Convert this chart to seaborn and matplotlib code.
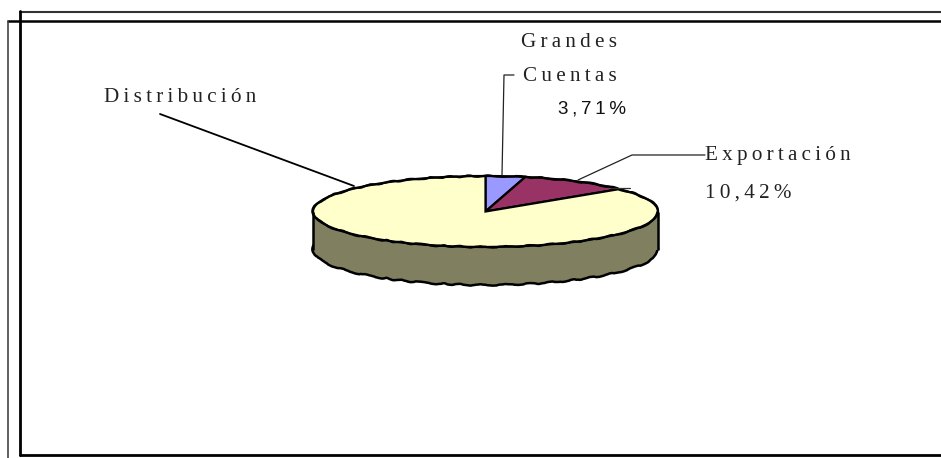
import matplotlib
matplotlib.use("Agg")
import matplotlib.pyplot as plt
import seaborn as sns
from matplotlib.patches import Rectangle

categories = ["Grandes Cuentas", "Exportación", "Distribución"]
values = [3.71, 10.42, 85.87]
value_labels = ["3,71%", "10,42%"]
slice_colors = ["#9999FF", "#993366", "#FFFFCC"]
wall_color = "#808060"

W, H = 941, 458
sns.set_theme(style="white", rc={"axes.grid": False})
palette = sns.color_palette(slice_colors)
SERIF = ["Liberation Serif", "DejaVu Serif"]
SANS = ["Liberation Sans", "DejaVu Sans"]


def spaced(s, sep="\u2009"):
    return sep.join(s)


fig = plt.figure(figsize=(W / 100, H / 100), dpi=100, facecolor="white")

# Overlay in pixel coordinates: frame, leader lines and labels
over = fig.add_axes([0, 0, 1, 1], zorder=3)
over.set_xlim(0, W)
over.set_ylim(H, 0)
over.axis("off")
over.patch.set_alpha(0)

over.plot([20, W], [11.5, 11.5], color="#333333", lw=1.5)
over.plot([8, W], [21, 21], color="black", lw=1.8)
over.plot([8.5, 8.5], [21, H], color="#444444", lw=1.2)
over.plot([20.5, 20.5], [11, 455], color="black", lw=2.0)
over.plot([20, W], [455, 455], color="black", lw=2.0)

# Pie: ellipse spans x 313-658, top y 176-247, wall drops to y 285
left, right, top, bottom = 313, 658, 176, 285
ax = fig.add_axes([left / W, 1 - bottom / H, (right - left) / W, (bottom - top) / H], zorder=2)
ry = 35.5
depth = (bottom - top - 2 * ry) / ry

arc, _ = ax.pie([100], colors=[wall_color], center=(0, -depth), radius=1,
                wedgeprops=dict(edgecolor="black", linewidth=1.8, clip_on=False))
ax.add_patch(Rectangle((-1, -depth), 2, depth, facecolor=wall_color, edgecolor="none", clip_on=False))
ax.vlines([-1, 1], -depth, 0, color="black", lw=1.8, clip_on=False)
wedges, _ = ax.pie(values, colors=palette, radius=1, center=(0, 0),
                   startangle=90, counterclock=False,
                   wedgeprops=dict(edgecolor="black", linewidth=1.6, clip_on=False))
rim, _ = ax.pie([100], colors=["none"], radius=1, center=(0, 0),
                wedgeprops=dict(edgecolor="black", linewidth=1.6, clip_on=False))
for w in rim + arc:
    w.set_sketch_params(scale=0.7, length=30, randomness=4)
ax.set_aspect("auto")
ax.set_xlim(-1, 1)
ax.set_ylim(-1 - depth, 1)
ax.axis("off")

# Leader lines
over.plot([160, 354], [114, 186], color="black", lw=1.3)
over.plot([502, 504, 514], [175, 75, 75], color="#222222", lw=0.9)
over.plot([578, 632, 705], [180, 155, 155], color="#222222", lw=0.9)
over.plot([612, 630], [188, 188], color="#333333", lw=0.9)

# Labels
tk = dict(family=SERIF, fontsize=15.2, color="#222222", va="baseline", ha="left")
over.text(104, 102, spaced(categories[2]), **tk)
over.text(521, 47, spaced("Grandes"), **tk)
over.text(523, 81, spaced("Cuentas"), **tk)
over.text(558, 114, spaced(value_labels[0]), family=SANS, fontsize=13.5,
          color="#111111", va="baseline", ha="left")
over.text(705, 160, spaced(categories[1]), **tk)
over.text(705, 198, spaced(value_labels[1]), **tk)

fig.savefig("out.png", dpi=100)
